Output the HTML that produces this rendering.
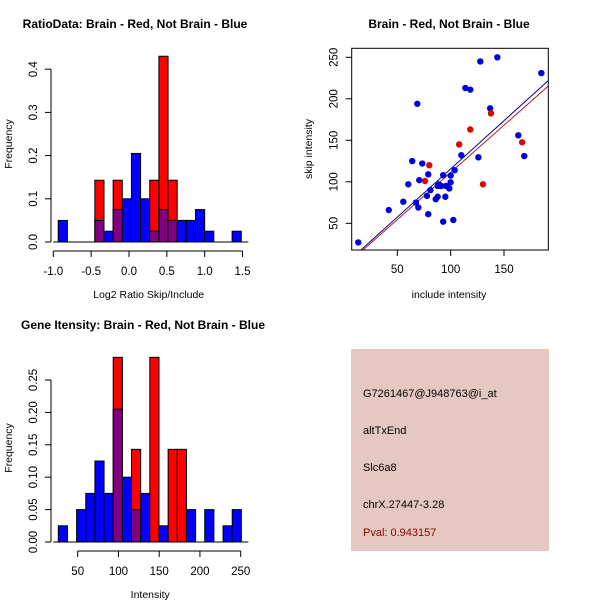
<!DOCTYPE html>
<html><head><meta charset="utf-8"><style>
body{margin:0;background:#fff;}
svg{display:block;font-family:"Liberation Sans",sans-serif;}
</style></head><body>
<svg id="c" width="600" height="600" xmlns="http://www.w3.org/2000/svg"></svg>
<script>
// ---- Ratio histogram data ----
const ratioBinStart = -0.935;
const ratioBinWidth = 0.1209;
const ratioRed  = [0,0,0,0,0.143,0,0.143,0,0,0,0.143,0.43,0.143,0,0,0,0,0,0,0];
const ratioBlue = [0.05,0,0,0,0.05,0.025,0.075,0.1,0.205,0.1,0.025,0.075,0.05,0.05,0.05,0.075,0.025,0,0,0.025];
const ratioXTicks = [-1.0,-0.5,0.0,0.5,1.0,1.5];
const ratioXTickLabels = ["-1.0","-0.5","0.0","0.5","1.0","1.5"];
const ratioYTicks = [0,0.1,0.2,0.3,0.4];
const ratioYTickLabels = ["0.0","0.1","0.2","0.3","0.4"];
// ---- Intensity histogram data ----
const intBinStart = 26.2;
const intBinWidth = 11.23;
const intRed  = [0,0,0,0,0,0,0.285,0,0.143,0,0.285,0,0.143,0.143,0,0,0,0,0,0];
const intBlue = [0.025,0,0.05,0.075,0.125,0.075,0.205,0.1,0.05,0.075,0,0.025,0,0,0.05,0,0.05,0,0.025,0.05];
const intXTicks = [50,100,150,200,250];
const intXTickLabels = ["50","100","150","200","250"];
const intYTicks = [0,0.05,0.1,0.15,0.2,0.25];
const intYTickLabels = ["0.00","0.05","0.10","0.15","0.20","0.25"];
// ---- Scatter data ----
const blueX = [13.4,42,55.6,60.3,64,68.75,69.7,70.6,73.4,67.5,77.8,79,79,81,86,87.8,87.8,89,91,93,93,95,95.6,98.75,100,100,102.5,103.75,110,113.75,118.4,126,127.8,137,143.75,163.4,169,185];
const blueY = [27,66,76,97,125,194,69,102,122,75,83,109,61,90,79,82,95,97,95,108,52,82,95,92,107.5,99.4,54,114,132,213,211,129.5,245,188.5,250,156,131,231];
const redX = [80,76,108,118.4,137.8,130.3,167];
const redY = [120,101,145,163,182.5,97,147.6];
const blueFit = [-0.69,1.162]; // intercept, slope
const redFit = [-2.5,1.138];
const scXTicks = [50,100,150];
const scYTicks = [50,100,150,200,250];
const infoLines = ["G7261467@J948763@i_at","altTxEnd","Slc6a8","chrX.27447-3.28"];
const pvalText = "Pval: 0.943157";

const svg = document.getElementById('c');
const NS = "http://www.w3.org/2000/svg";
function mk(tag, attrs, parent){const e=document.createElementNS(NS,tag);for(const k in attrs)e.setAttribute(k,attrs[k]);(parent||svg).appendChild(e);return e;}
function txt(s,x,y,attrs,parent){const e=mk('text',Object.assign({x:x,y:y,'font-size':11.5,'text-anchor':'middle',fill:'#000'},attrs||{}),parent);e.textContent=s;return e;}

function histogram(cfg){
  const g=mk('g',{});
  
  
  const sx=v=>cfg.x0px+(v-cfg.x0)*cfg.xs;
  const sy=v=>cfg.y0px-v*cfg.ys;
  for(let i=0;i<cfg.red.length;i++){
    const a=cfg.binStart+i*cfg.binW, b=a+cfg.binW;
    const r=cfg.red[i], bl=cfg.blue[i];
    const x1=sx(a), w=sx(b)-sx(a);
    const draw=(v,col,nm)=>{ if(v<=0) return; const e=mk('rect',{x:x1,y:sy(v),width:w,height:sy(0)-sy(v),fill:col,stroke:'#000','stroke-width':1},g);
      
       };
    const mn=Math.min(r,bl);
    if(r>=bl){ draw(r,'#ff0000','bar-red'); if(mn>0) draw(mn,'#800080','bar-overlap'); }
    else { draw(bl,'#0000ff','bar-blue'); if(mn>0) draw(mn,'#800080','bar-overlap'); }
  }
  const yt=cfg.yTicks;
  mk('line',{x1:cfg.yAxisX,x2:cfg.yAxisX,y1:sy(yt[0]),y2:sy(yt[yt.length-1]),stroke:'#000'},g);
  yt.forEach((t,i)=>{const y=sy(t);mk('line',{x1:cfg.yAxisX-6,x2:cfg.yAxisX,y1:y,y2:y,stroke:'#000'},g);
    txt(cfg.yLabels[i],0,0,{transform:`translate(${cfg.yAxisX-14},${y}) rotate(-90)`},g);});
  const xt=cfg.xTicks, ay=cfg.y0px+9;
  mk('line',{x1:sx(xt[0]),x2:sx(xt[xt.length-1]),y1:ay,y2:ay,stroke:'#000'},g);
  xt.forEach((t,i)=>{const x=sx(t);mk('line',{x1:x,x2:x,y1:ay,y2:ay+6,stroke:'#000'},g);
    txt(cfg.xLabels[i],x,ay+24,{},g);});
  mk('line',{x1:sx(cfg.binStart)-5,x2:sx(cfg.binStart+cfg.red.length*cfg.binW)+7,y1:cfg.y0px,y2:cfg.y0px,stroke:'#000'},g);
  const t=txt(cfg.title,cfg.titleX,cfg.titleY,{'font-weight':'bold','font-size':12},g);
  
  
  const xl=txt(cfg.xlab,sx(cfg.xlabV),cfg.y0px+56,{'font-size':10.5},g);
  
  
  const yl=txt('Frequency',0,0,{'font-size':10.5,transform:`translate(12,${cfg.ylabY}) rotate(-90)`},g);
  
  
}

histogram({name:'ratio-histogram',red:ratioRed,blue:ratioBlue,binStart:ratioBinStart,binW:ratioBinWidth,
  x0:-1,x0px:53.3,xs:75.7,y0px:242,ys:432,yAxisX:51,
  xTicks:ratioXTicks,xLabels:ratioXTickLabels,yTicks:ratioYTicks,yLabels:ratioYTickLabels,
  title:'RatioData: Brain - Red, Not Brain - Blue',titleX:135,titleY:28,xlab:'Log2 Ratio Skip/Include',xlabV:0.26,ylabY:144});
histogram({name:'intensity-histogram',red:intRed,blue:intBlue,binStart:intBinStart,binW:intBinWidth,
  x0:50,x0px:77.7,xs:0.815,y0px:542,ys:648,yAxisX:51,
  xTicks:intXTicks,xLabels:intXTickLabels,yTicks:intYTicks,yLabels:intYTickLabels,
  title:'Gene Itensity: Brain - Red, Not Brain - Blue',titleX:143,titleY:329,xlab:'Intensity',xlabV:139,ylabY:448});

(function(){
  const g=mk('g',{});
  
  
  const L=351.7,R=548.3,T=48.3,B=250;
  const sx=v=>397.3+(v-50)*1.067;
  const sy=v=>223.3-(v-50)*0.83;
  mk('clipPath',{id:'clp'},g); mk('rect',{x:L,y:T,width:R-L,height:B-T},g.lastChild);
  const fitLine=(f,col,nm)=>{const x1=0,x2=220;const e=mk('line',{x1:sx(x1),y1:sy(f[0]+f[1]*x1),x2:sx(x2),y2:sy(f[0]+f[1]*x2),stroke:col,'stroke-width':1,'clip-path':'url(#clp)'},g);
    
    };
  fitLine(blueFit,'#00008b','fit-line-blue');
  fitLine(redFit,'#b22222','fit-line-red');
  blueX.forEach((x,i)=>{const c=mk('circle',{cx:sx(x),cy:sy(blueY[i]),r:3.2,fill:'#0000dd'},g);
    
    });
  redX.forEach((x,i)=>{const c=mk('circle',{cx:sx(x),cy:sy(redY[i]),r:3.2,fill:'#e00000'},g);
    
    });
  mk('rect',{x:L,y:T,width:R-L,height:B-T,fill:'none',stroke:'#000'},g);
  scXTicks.forEach(t=>{const x=sx(t);mk('line',{x1:x,x2:x,y1:B,y2:B+6,stroke:'#000'},g);txt(String(t),x,B+23,{},g);});
  scYTicks.forEach(t=>{const y=sy(t);mk('line',{x1:L-6,x2:L,y1:y,y2:y,stroke:'#000'},g);txt(String(t),0,0,{transform:`translate(${L-14},${y}) rotate(-90)`},g);});
  const t=txt('Brain - Red, Not Brain - Blue',449,28,{'font-weight':'bold','font-size':12},g);
  
  
  const xl=txt('include intensity',449,298,{'font-size':10.5},g);
  
  
  const yl=txt('skip intensity',0,0,{'font-size':10.5,transform:'translate(312,149) rotate(-90)'},g);
  
  
})();

(function(){
  const g=mk('g',{});
  
  
  mk('rect',{x:351,y:349,width:198,height:202,fill:'#e6c8c2'},g);
  const ys=[397,434,471,508];
  infoLines.forEach((s,i)=>{const e=txt(s,363,ys[i],{'font-size':11,'text-anchor':'start'},g);
    
    });
  const p=txt(pvalText,363,536,{'font-size':11,'text-anchor':'start',fill:'#8b0000'},g);
  
  
})();
</script>
</body></html>
